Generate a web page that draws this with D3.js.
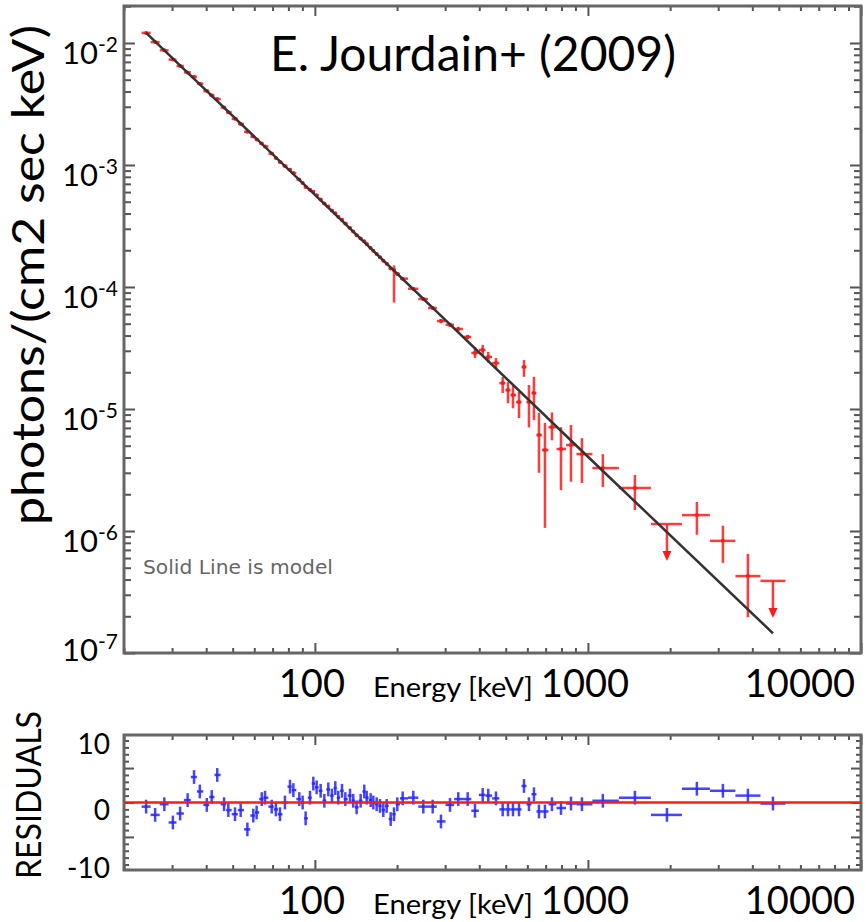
<!DOCTYPE html>
<html>
<head>
<meta charset="utf-8">
<script src="https://cdn.jsdelivr.net/npm/d3@7"></script>
<style>
body{margin:0;background:#fff;}
text{font-family:Lato,"Open Sans",sans-serif;fill:#000;}
</style>
</head>
<body>
<svg width="866" height="922"></svg>
<script>
// ---- data ----
// bin centre energies [keV]
var energy=[24.1,26.0,28.1,30.2,32.1,34.2,36.1,37.9,40.2,41.9,
	43.9,46.5,48.2,51.0,53.5,56.6,59.5,61.2,63.9,65.7,
	69.5,72.0,74.5,77.7,81.1,83.4,87.7,90.2,92.5,96.0,
	98.7,101.5,105.0,108.3,112.0,115.5,118.8,121.8,125.7,129.3,
	134.5,138.2,142.2,147.1,151.7,154.8,160.1,163.7,168.4,173.2,
	178.1,183.2,189.5,194.9,200.4,209.7,229.3,249.5,270.1,289.6,
	312.5,335.1,362.7,385.8,411.7,431.5,460.5,487.3,509.6,531.5,
	559.2,583.3,608.1,634.3,661.6,696.0,738.3,796.7,866.7,950.6,
	1134,1486,1947,2506,3121,3853,4759];
// photons/(cm2 sec keV)
var flux=[0.01210,0.01017,0.00871,0.00731,0.00648,0.00574,0.00528,0.00464,0.00404,0.00373,
	0.00347,0.00296,0.00271,0.00239,0.00217,0.00187,0.00171,0.00162,0.00150,0.00142,
	0.00124,0.00114,0.001058,0.000982,0.000916,0.000859,0.000761,0.000713,0.000661,0.000628,
	0.000603,0.000564,0.000522,0.000483,0.000456,0.000423,0.000402,0.000376,0.000355,0.000331,
	0.000305,0.000285,0.000266,0.000250,0.000237,0.000225,0.000209,0.000198,0.000186,0.000175,
	0.000164,0.000155,0.0001415,0.000138,0.000128,0.000117,9.67e-5,7.97e-5,6.73e-5,5.26e-5,
	4.90e-5,4.53e-5,3.89e-5,2.88e-5,3.05e-5,2.67e-5,2.38e-5,1.63e-5,1.43e-5,1.30e-5,
	1.14e-5,2.21e-5,1.14e-5,1.35e-5,6.12e-6,4.61e-6,7.1e-6,4.70e-6,5.07e-6,4.27e-6,
	3.28e-6,2.25e-6,1.14e-6,1.35e-6,8.3e-7,4.27e-7,3.9e-7];
// relative errors (up / down)
var errUp=[0.01,0.01,0.01,0.01,0.01,0.01,0.01,0.01,0.01,0.01,
	0.01,0.01,0.01,0.01,0.01,0.01,0.01,0.01,0.01,0.01,
	0.015,0.015,0.015,0.015,0.015,0.015,0.015,0.015,0.015,0.015,
	0.015,0.015,0.015,0.015,0.015,0.015,0.015,0.015,0.015,0.015,
	0.02,0.02,0.02,0.02,0.02,0.02,0.02,0.02,0.02,0.02,
	0.02,0.02,0.02,0.09,0.03,0.03,0.03,0.03,0.03,0.04,
	0.04,0.04,0.04,0.12,0.10,0.10,0.10,0.12,0.16,0.19,
	0.21,0.14,0.38,0.36,0.52,0.67,0.32,0.51,0.46,0.35,
	0.30,0.28,0,0.28,0.33,0.52,0];
var errDown=[0.01,0.01,0.01,0.01,0.01,0.01,0.01,0.01,0.01,0.01,
	0.01,0.01,0.01,0.01,0.01,0.01,0.01,0.01,0.01,0.01,
	0.015,0.015,0.015,0.015,0.015,0.015,0.015,0.015,0.015,0.015,
	0.015,0.015,0.015,0.015,0.015,0.015,0.015,0.015,0.015,0.015,
	0.02,0.02,0.02,0.02,0.02,0.02,0.02,0.02,0.02,0.02,
	0.02,0.02,0.02,0.46,0.03,0.03,0.03,0.03,0.03,0.04,
	0.04,0.04,0.04,0.09,0.10,0.10,0.10,0.17,0.22,0.22,
	0.26,0.17,0.38,0.40,0.51,0.77,0.22,0.54,0.50,0.42,
	0.30,0.34,0,0.31,0.34,0.54,0];
// bins that are upper limits
var upperLimitE=[1947,4759];
// residuals (sigma)
var residual=[-0.6,-1.8,-0.25,-2.9,-1.6,0.35,3.7,1.6,-0.35,0.8,
	4.0,-0.25,-1.1,-1.7,-1.1,-3.9,-1.9,-1.45,0.5,0.7,
	-0.6,-1.0,-1.7,0,2.3,1.8,0.5,0,-2.3,0.7,
	2.75,2.2,1.7,0.25,1.9,1.0,2.1,0.7,1.7,0.5,
	1.0,0.25,-0.7,0.25,1.6,0.7,0.35,0,-0.25,-0.5,
	-1.1,-0.5,-2.4,-1.7,-0.25,0.6,0.7,-0.6,-0.6,-2.75,
	-0.35,0.5,0.5,-1.2,1.1,1.0,0.6,-1.0,-1.0,-1.0,
	-1.0,2.4,-0.25,1.2,-1.3,-1.3,-0.25,-0.8,-0.15,-0.25,
	0.25,0.7,-1.8,2.0,1.7,1.0,-0.15];
var residualErr=1;
// model (solid line)
var modelEnergy=[24.1,1000,4760];
var modelFlux=[0.0121,4.06e-6,1.45e-7];
// tick labels
var fluxTicks=[1e-2,1e-3,1e-4,1e-5,1e-6,1e-7];
var fluxExp=["-2","-3","-4","-5","-6","-7"];
var energyTicks=[100,1000,10000];
var residualTicks=[10,0,-10];

// ---- drawing ----
var svg=d3.select("svg");
var x=d3.scaleLog().domain([20,10000]).range([124,861]);
var y=d3.scaleLog().domain([1e-7,0.0201]).range([653,6]);
var yr=d3.scaleLinear().domain([-9.8,9.8]).range([870,735]);

function isMajor(v){var l=Math.log10(Math.abs(v));return Math.abs(l-Math.round(l))<1e-9;}

// bin edges: geometric mid points between neighbours
var bins=energy.map(function(e,i){
	var lo=i>0?Math.sqrt(energy[i-1]*e):e*Math.sqrt(e/energy[i+1]);
	var hi=i<energy.length-1?Math.sqrt(e*energy[i+1]):e*Math.sqrt(e/energy[i-1]);
	return [lo,hi];
});

function frame(top,bottom,yscale,ymin,ymaj,ysmall,ybig){
	var xt=x.ticks();
	var xmin=xt.filter(function(v){return !isMajor(v);});
	var xmaj=xt.filter(isMajor);
	var g=svg.append("g");
	function ax(a,vals,len,tr){
		var s=g.append("g").attr("transform",tr).call(a.tickValues(vals).tickSize(-len).tickFormat(""));
		s.select(".domain").remove();
		s.selectAll("line").attr("stroke","#555").attr("stroke-width",2);
	}
	ax(d3.axisBottom(x),xmin,5,"translate(0,"+bottom+")");
	ax(d3.axisBottom(x),xmaj,10,"translate(0,"+bottom+")");
	ax(d3.axisTop(x),xmin,5,"translate(0,"+top+")");
	ax(d3.axisTop(x),xmaj,10,"translate(0,"+top+")");
	ax(d3.axisLeft(yscale),ymin,ysmall,"translate(124,0)");
	ax(d3.axisLeft(yscale),ymaj,ybig,"translate(124,0)");
	ax(d3.axisRight(yscale),ymin,ysmall,"translate(861,0)");
	ax(d3.axisRight(yscale),ymaj,ybig,"translate(861,0)");
	g.append("rect").attr("x",124).attr("y",top).attr("width",861-124).attr("height",bottom-top)
		.attr("fill","none").attr("stroke","#666").attr("stroke-width",3);
}

// main panel
var yt=y.ticks();
frame(6,653,y,yt.filter(function(v){return !isMajor(v);}),yt.filter(isMajor),7,11);

var pts=svg.append("g").attr("stroke","#ff1a1a").attr("stroke-width",2.5).attr("stroke-opacity",0.85);
energy.forEach(function(e,i){
	var ul=upperLimitE.indexOf(e)>=0;
	pts.append("line").attr("x1",x(bins[i][0])).attr("x2",x(bins[i][1]))
		.attr("y1",y(flux[i])).attr("y2",y(flux[i]));
	if(ul){
		var y0=y(flux[i]);
		pts.append("line").attr("x1",x(e)).attr("x2",x(e)).attr("y1",y0).attr("y2",y0+28);
		pts.append("path").attr("d","M"+(x(e)-4.5)+","+(y0+27)+"L"+(x(e)+4.5)+","+(y0+27)+"L"+x(e)+","+(y0+37)+"Z")
			.attr("fill","#ff1a1a").attr("stroke","none");
	}else{
		pts.append("line").attr("x1",x(e)).attr("x2",x(e))
			.attr("y1",y(flux[i]*(1+errUp[i]))).attr("y2",y(flux[i]*(1-errDown[i])));
		pts.append("circle").attr("cx",x(e)).attr("cy",y(flux[i])).attr("r",2).attr("fill","#ff1a1a").attr("stroke","none");
	}
});

var line=d3.line().x(function(d){return x(d[0]);}).y(function(d){return y(d[1]);});
svg.append("path").datum(modelEnergy.map(function(e,i){return [e,modelFlux[i]];}))
	.attr("d",line).attr("fill","none").attr("stroke","#333").attr("stroke-width",2.5);

// main texts
svg.append("text").attr("x",270).attr("y",71).attr("font-size",48).text("E. Jourdain+ (2009)");
svg.append("text").attr("transform","translate(44,275) rotate(-90)").attr("text-anchor","middle")
	.attr("font-size",45).attr("textLength",500).attr("lengthAdjust","spacingAndGlyphs")
	.text("photons/(cm2 sec keV)");
svg.append("text").attr("x",143).attr("y",574).attr("font-size",19).style("font-family","'DejaVu Sans'")
	.style("fill","#666").attr("textLength",190).attr("lengthAdjust","spacingAndGlyphs")
	.text("Solid Line is model");

fluxTicks.forEach(function(v,i){
	var t=svg.append("text").attr("x",118).attr("y",Math.min(y(v)+21,661)).attr("text-anchor","end");
	t.append("tspan").attr("font-size",31).text("10");
	t.append("tspan").attr("font-size",21).attr("dy",-12).text(fluxExp[i]);
});

function energyLabels(base){
	energyTicks.forEach(function(v){
		var t=svg.append("text").attr("y",base).attr("font-size",38).attr("text-anchor","middle").text(v);
		var w=t.node().getComputedTextLength();
		t.attr("x",Math.min(x(v)-3,855-w/2));
	});
	svg.append("text").attr("x",373).attr("y",base).attr("font-size",27)
		.attr("textLength",160).attr("lengthAdjust","spacingAndGlyphs").text("Energy [keV]");
}
energyLabels(697);

// residual panel
var rt=d3.range(-9,10);
frame(735,870,yr,rt.filter(function(v){return v%5!==0;}),rt.filter(function(v){return v%5===0;}),5,10);

var rg=svg.append("g").attr("stroke","#2424ff").attr("stroke-width",2.5).attr("stroke-opacity",0.85);
energy.forEach(function(e,i){
	rg.append("line").attr("x1",x(bins[i][0])).attr("x2",x(bins[i][1]))
		.attr("y1",yr(residual[i])).attr("y2",yr(residual[i]));
	rg.append("line").attr("x1",x(e)).attr("x2",x(e))
		.attr("y1",yr(residual[i]+residualErr)).attr("y2",yr(residual[i]-residualErr));
});
svg.append("line").attr("x1",124).attr("x2",861).attr("y1",yr(0)).attr("y2",yr(0))
	.attr("stroke","#ff1a1a").attr("stroke-width",2.5);

residualTicks.forEach(function(v){
	var c=Math.max(744,Math.min(868,yr(v)+8));
	svg.append("text").attr("x",110).attr("y",c+9.5).attr("text-anchor","end").attr("font-size",28).text(v);
});
svg.append("text").attr("transform","translate(41,795) rotate(-90)").attr("text-anchor","middle")
	.attr("font-size",34).attr("textLength",168).attr("lengthAdjust","spacingAndGlyphs").text("RESIDUALS");
energyLabels(914);
</script>
</body>
</html>
